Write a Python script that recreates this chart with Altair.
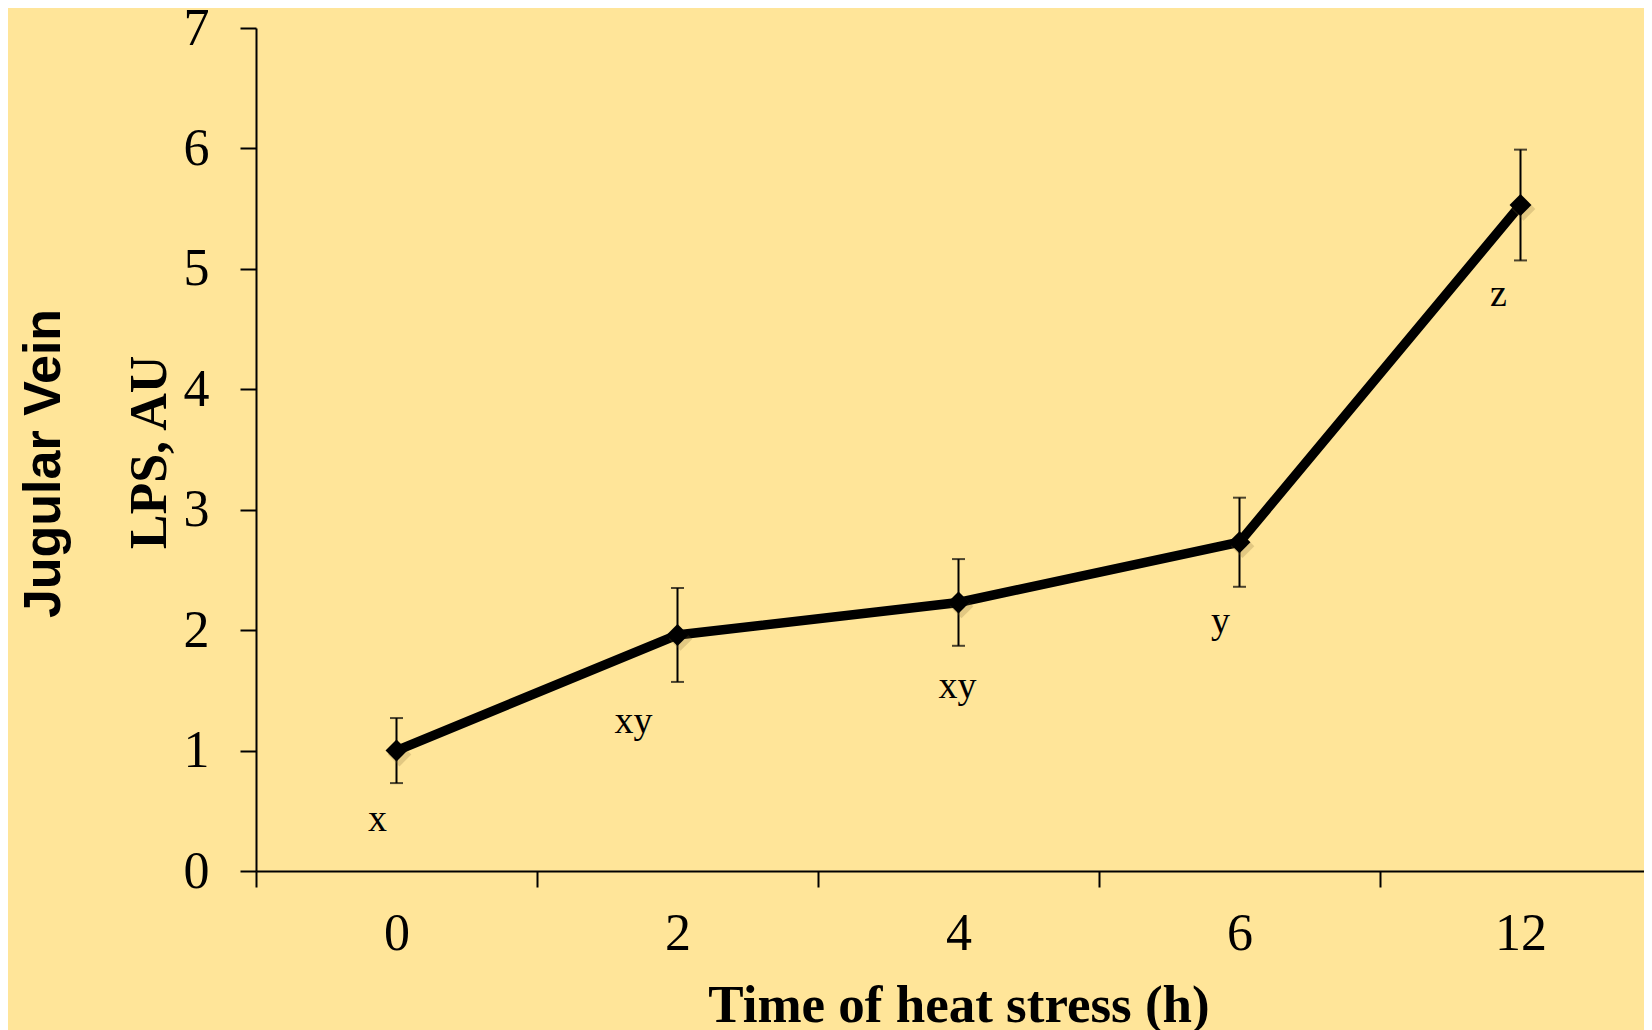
import altair as alt
import pandas as pd

times = ["0", "2", "4", "6", "12"]
means = [1.00, 1.96, 2.23, 2.73, 5.53]
sems = [0.27, 0.39, 0.36, 0.37, 0.46]
letters = ["x", "xy", "xy", "y", "z"]
letter_y = [0.42, 1.24, 1.53, 2.07, 4.78]
letter_dx = [-19, -44, -1, -19, -22]

df = pd.DataFrame({
    "time": times,
    "mean": means,
    "sem": sems,
    "letter": letters,
    "letter_y": letter_y,
})
df["lo"] = df["mean"] - df["sem"]
df["hi"] = df["mean"] + df["sem"]

BG = "#FFE599"
SERIF = "Liberation Serif"

x_enc = alt.X(
    "time:N",
    sort=times,
    scale=alt.Scale(range=[0, 1405], paddingInner=0, paddingOuter=0),
    axis=alt.Axis(
        title="Time of heat stress (h)",
        labelAngle=0,
        tickBand="extent",
        labelPadding=21,
        titleFont=SERIF,
        titleFontSize=53,
        titleFontWeight="bold",
        titleColor="black",
        titleBaseline="alphabetic",
        titleY=150,
        titleX=702.5,
        titleAlign="center",
    ),
)
y_scale = alt.Scale(domain=[0, 7], nice=False, zero=True)
y_enc = alt.Y(
    "mean:Q",
    scale=y_scale,
    axis=alt.Axis(
        title="LPS, AU",
        values=[0, 1, 2, 3, 4, 5, 6, 7],
        format="d",
        labelPadding=31,
        titleFont=SERIF,
        titleFontSize=52,
        titleFontWeight="bold",
        titleColor="black",
        titleBaseline="alphabetic",
        titleAngle=270,
        titleX=-91,
        titleY=424,
        titleAlign="center",
    ),
)

base = alt.Chart(df)

err = base.mark_rule(color="black", strokeWidth=2).encode(
    x=x_enc,
    y=alt.Y("lo:Q", scale=y_scale),
    y2="hi:Q",
)
cap_lo = base.mark_tick(color="black", thickness=2, size=13, orient="horizontal").encode(
    x=x_enc, y=alt.Y("lo:Q", scale=y_scale)
)
cap_hi = base.mark_tick(color="black", thickness=2, size=13, orient="horizontal").encode(
    x=x_enc, y=alt.Y("hi:Q", scale=y_scale)
)
line = base.mark_line(color="black", strokeWidth=9.5).encode(x=x_enc, y=y_enc)
shadow = base.mark_point(
    shape="diamond", filled=True, size=560, color="#7a6630", opacity=0.22,
    xOffset=3, yOffset=4,
).encode(x=x_enc, y=y_enc)
pts = base.mark_point(shape="diamond", filled=True, size=480, color="black", opacity=1).encode(
    x=x_enc, y=y_enc
)

letter_layers = []
for t, dx in zip(times, letter_dx):
    letter_layers.append(
        base.transform_filter(alt.datum.time == t)
        .mark_text(font=SERIF, fontSize=38, color="black", dx=dx, baseline="middle")
        .encode(x=x_enc, y=alt.Y("letter_y:Q", scale=y_scale), text="letter:N")
    )

side = alt.Chart(pd.DataFrame({"t": ["Jugular Vein"]})).mark_text(
    font="Liberation Sans", fontSize=52, fontWeight="bold", color="black",
    angle=270, align="center", baseline="alphabetic",
).encode(x=alt.value(-196.5), y=alt.value(435.5), text="t:N")

chart = alt.layer(
    err, cap_lo, cap_hi, line, shadow, pts, *letter_layers, side
).properties(
    width=1388,
    height=843,
    autosize=alt.AutoSizeParams(type="none"),
    padding={"left": 248, "top": 20, "right": 0, "bottom": 170},
    background=BG,
).configure_view(
    stroke=None
).configure_axis(
    grid=False,
    domainColor="black",
    domainWidth=2,
    tickColor="black",
    tickWidth=2,
    tickSize=16,
    labelFont=SERIF,
    labelFontSize=52,
    labelColor="black",
)

chart.save("out.html", embed_options={"renderer": "svg", "actions": False})
